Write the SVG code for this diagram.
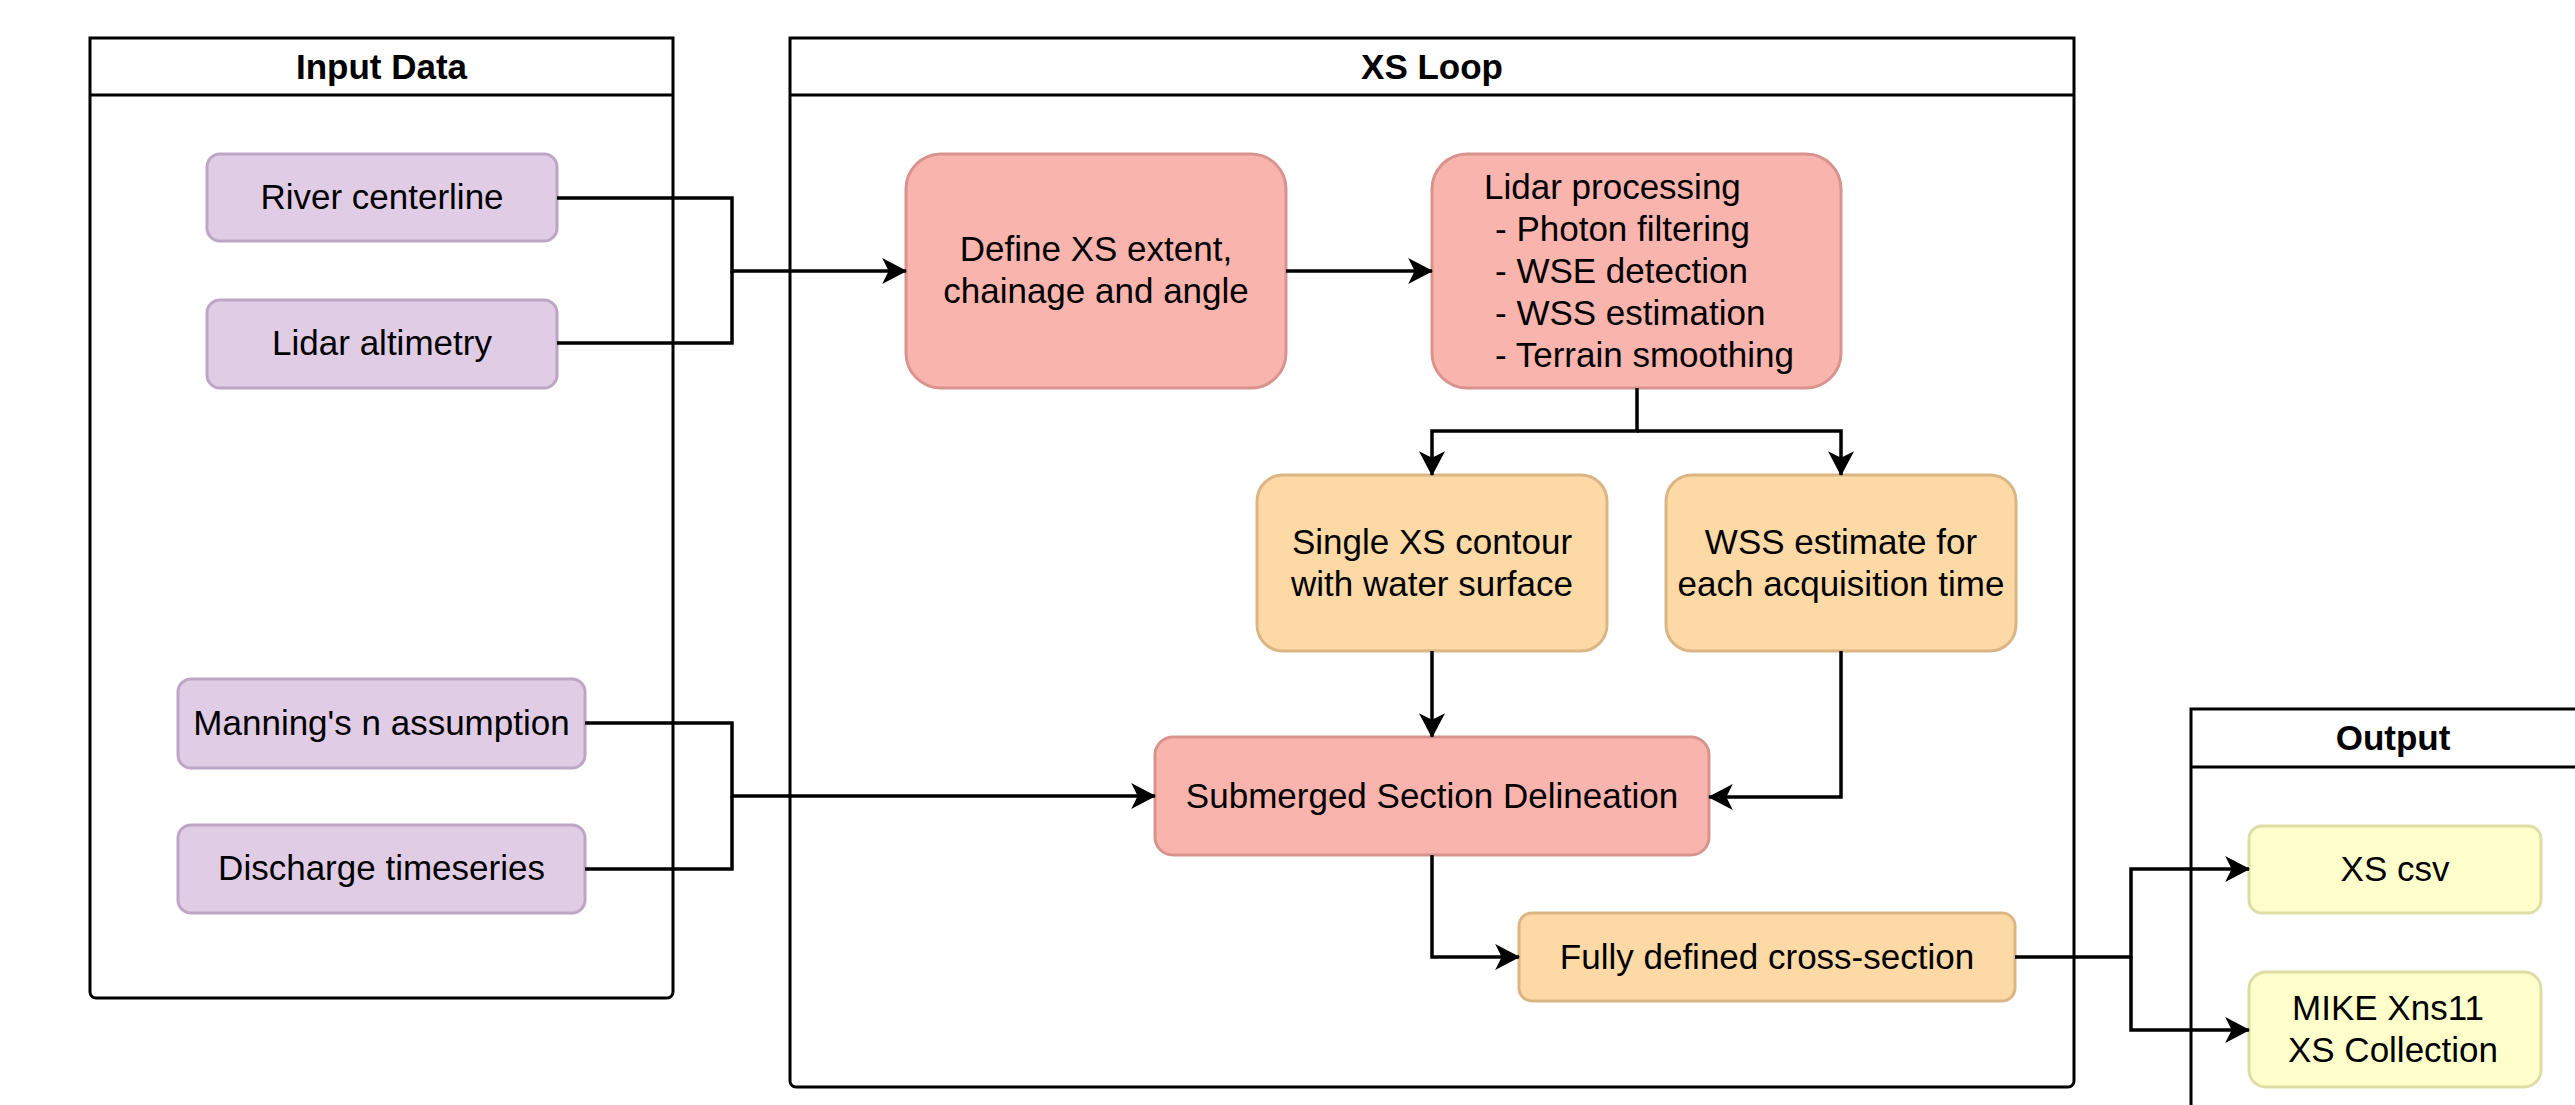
<svg xmlns="http://www.w3.org/2000/svg" width="2575" height="1105" viewBox="0 0 2575 1105">
<defs>
<style>
text{font-family:"Liberation Sans",Arial,sans-serif;font-size:35px;fill:#000}
.title{font-weight:bold;text-anchor:middle}
.c{text-anchor:middle}
.cont{fill:#fff;stroke:#000;stroke-width:3}
.hdr{stroke:#000;stroke-width:3;fill:none}
.purple{fill:#e0cde5;stroke:#bea5c6;stroke-width:3}
.pink{fill:#fab4ae;stroke:#d9938e;stroke-width:3}
.orange{fill:#fdd9a6;stroke:#dab685;stroke-width:3}
.yellow{fill:#ffffcc;stroke:#deddA5;stroke-width:3}
.edge{fill:none;stroke:#000;stroke-width:3.5;marker-end:url(#arr)}
.line{fill:none;stroke:#000;stroke-width:3.5}
</style>
<marker id="arr" markerUnits="userSpaceOnUse" markerWidth="26" markerHeight="26" viewBox="0 0 24 24" refX="22" refY="12" orient="auto">
<path d="M0,0 L23,12 L0,24 L6,12 Z" fill="#000"/>
</marker>
</defs>

<g id="input-data">
<path class="cont" d="M90,38 H673 V992 A6,6 0 0 1 667,998 H96 A6,6 0 0 1 90,992 Z"/>
<line class="hdr" x1="90" y1="95" x2="673" y2="95"/>
<text class="title" x="381.5" y="79">Input Data</text>
</g>

<g id="xs-loop">
<path class="cont" d="M790,38 H2074 V1081 A6,6 0 0 1 2068,1087 H796 A6,6 0 0 1 790,1081 Z"/>
<line class="hdr" x1="790" y1="95" x2="2074" y2="95"/>
<text class="title" x="1432" y="79">XS Loop</text>
</g>

<g id="output">
<path class="cont" d="M2600,709 H2191 V1110 H2600"/>
<line class="hdr" x1="2191" y1="767" x2="2600" y2="767"/>
<text class="title" x="2393" y="750">Output</text>
</g>

<g id="river-centerline">
<rect class="purple" x="207" y="154" width="350" height="87" rx="13"/>
<text class="c" x="382" y="209">River centerline</text>
</g>
<g id="lidar-altimetry">
<rect class="purple" x="207" y="300" width="350" height="88" rx="13"/>
<text class="c" x="382" y="355">Lidar altimetry</text>
</g>
<g id="mannings-n">
<rect class="purple" x="178" y="679" width="407" height="89" rx="13"/>
<text class="c" x="381.5" y="735">Manning's n assumption</text>
</g>
<g id="discharge">
<rect class="purple" x="178" y="825" width="407" height="88" rx="13"/>
<text class="c" x="381.5" y="880">Discharge timeseries</text>
</g>

<g id="define-xs">
<rect class="pink" x="906" y="154" width="380" height="234" rx="35"/>
<text class="c" x="1096" y="261">Define XS extent,</text>
<text class="c" x="1096" y="303">chainage and angle</text>
</g>
<g id="lidar-processing">
<rect class="pink" x="1432" y="154" width="409" height="234" rx="35"/>
<text x="1484" y="199">Lidar processing</text>
<text x="1495" y="241">- Photon filtering</text>
<text x="1495" y="283">- WSE detection</text>
<text x="1495" y="325">- WSS estimation</text>
<text x="1495" y="367">- Terrain smoothing</text>
</g>
<g id="single-xs">
<rect class="orange" x="1257" y="475" width="350" height="176" rx="26"/>
<text class="c" x="1432" y="554">Single XS contour</text>
<text class="c" x="1432" y="596">with water surface</text>
</g>
<g id="wss-estimate">
<rect class="orange" x="1666" y="475" width="350" height="176" rx="26"/>
<text class="c" x="1841" y="554">WSS estimate for</text>
<text class="c" x="1841" y="596">each acquisition time</text>
</g>
<g id="submerged">
<rect class="pink" x="1155" y="737" width="554" height="118" rx="18"/>
<text class="c" x="1432" y="808">Submerged Section Delineation</text>
</g>
<g id="fully-defined">
<rect class="orange" x="1519" y="913" width="496" height="88" rx="13"/>
<text class="c" x="1767" y="969">Fully defined cross-section</text>
</g>

<g id="xs-csv">
<rect class="yellow" x="2249" y="826" width="292" height="87" rx="13"/>
<text class="c" x="2395" y="881">XS csv</text>
</g>
<g id="mike-xns11">
<rect class="yellow" x="2249" y="972" width="292" height="115" rx="17"/>
<text class="c" x="2388" y="1020">MIKE Xns11</text>
<text class="c" x="2393" y="1062">XS Collection</text>
</g>

<g id="connectors">
<path class="edge" d="M557,198 H732 V271 H906"/>
<path class="line" d="M557,343 H732 V271"/>
<path class="edge" d="M1286,271 H1432"/>
<path class="edge" d="M1637,388 V431 H1432 V475"/>
<path class="edge" d="M1637,431 H1841 V475"/>
<path class="edge" d="M1432,651 V737"/>
<path class="edge" d="M1841,651 V797 H1709"/>
<path class="edge" d="M585,723 H732 V796 H1155"/>
<path class="line" d="M585,869 H732 V796"/>
<path class="edge" d="M1432,855 V957 H1519"/>
<path class="edge" d="M2015,957 H2131 V869 H2249"/>
<path class="edge" d="M2131,957 V1030 H2249"/>
</g>
</svg>
